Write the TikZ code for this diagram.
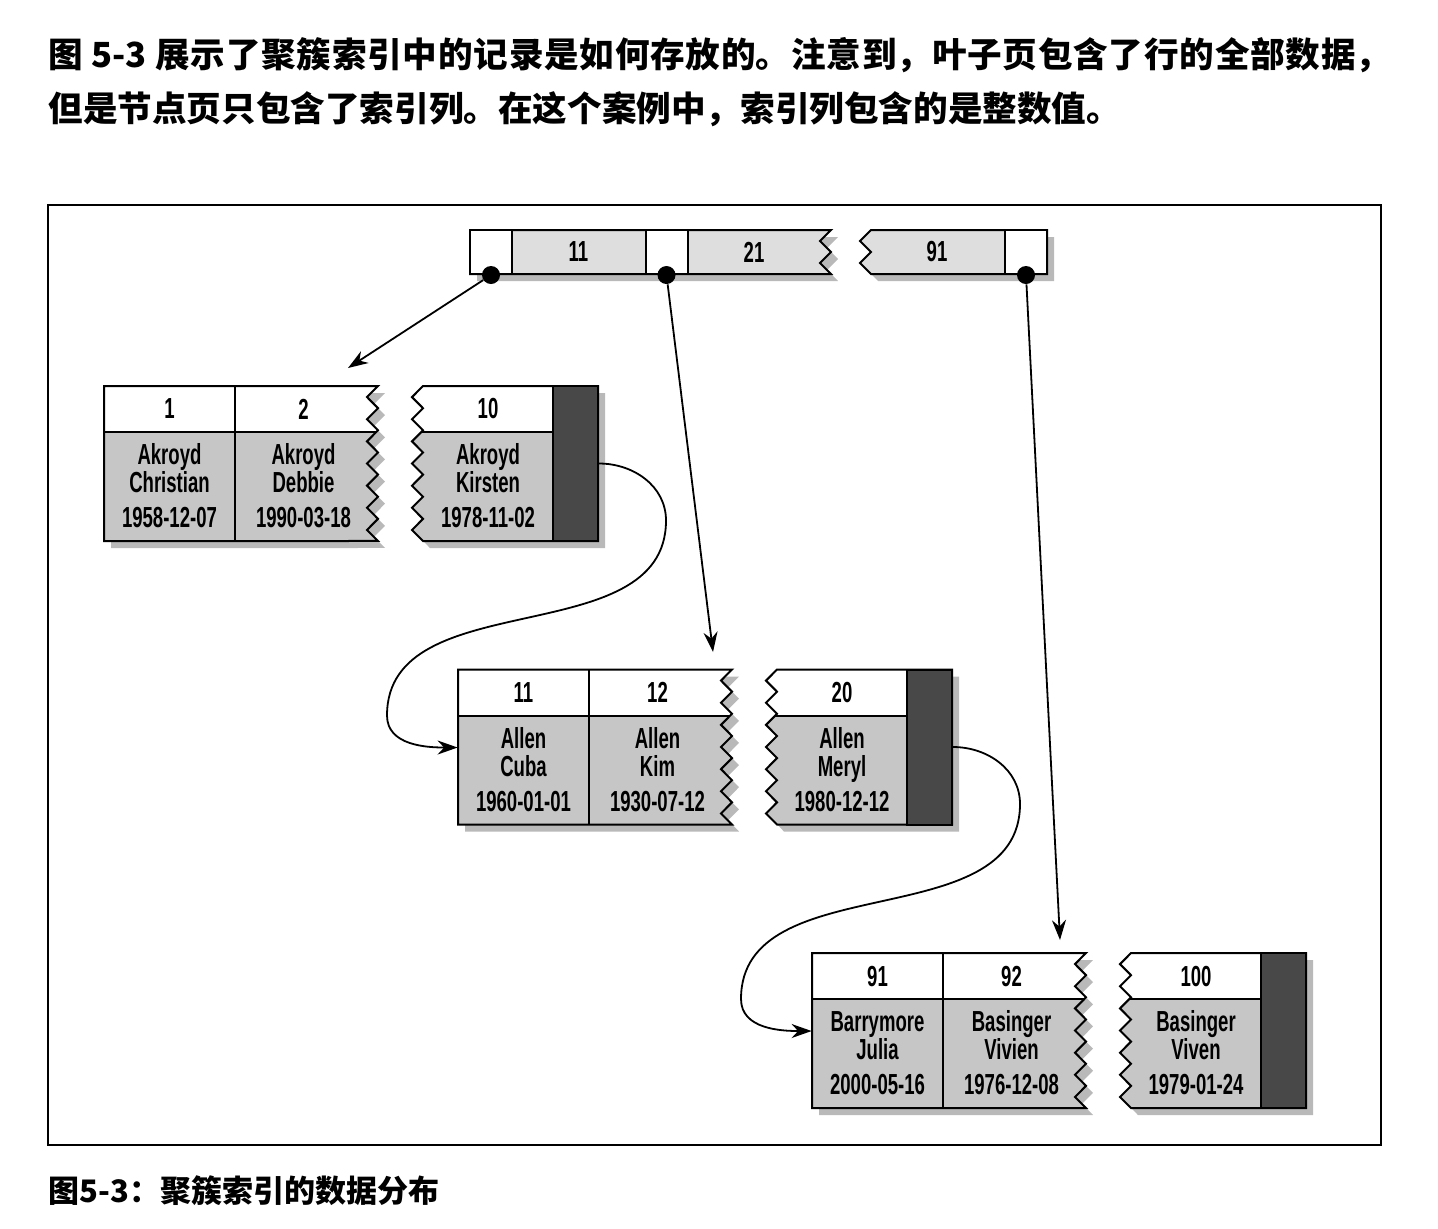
\documentclass[tikz,border=0pt]{standalone}
\usepackage{fontspec}
\setmainfont{Liberation Sans}
\newfontfamily\cjk{Noto Sans CJK SC}
\newfontfamily\cellfont[FakeStretch=0.64]{Liberation Sans}
\XeTeXlinebreaklocale "zh"
\XeTeXlinebreakskip=0pt plus 3pt
\usetikzlibrary{arrows.meta,calc}
\definecolor{KeyGrey}{RGB}{222,222,222}
\definecolor{RowGrey}{RGB}{198,198,198}
\definecolor{DarkGrey}{RGB}{72,72,72}
\definecolor{ShadowGrey}{RGB}{185,185,185}
\tikzset{
  pageline/.style={draw=black,line width=1pt},
  link/.style={-{Stealth[length=10pt,width=7pt]},line width=0.9pt},
  keytext/.style={inner sep=0pt,font=\cellfont\bfseries\fontsize{14.5}{14}\selectfont},
  rowtext/.style={inner sep=0pt,align=center,font=\cellfont\bfseries\fontsize{14.5}{14}\selectfont},
  dot/.style={circle,fill=black,inner sep=0pt,minimum size=9pt},
  ptrcell/.style={draw=black,line width=1pt,fill=white,minimum width=21pt,
    minimum height=22pt,inner sep=0pt},
  darkcol/.style={draw=black,line width=1pt,fill=DarkGrey,minimum width=22.5pt,
    minimum height=77.5pt,inner sep=0pt},
  % torn halves of a page, drawn in the coordinates of the first leaf
  leafleft/.style={insert path={(104,386) -- (378,386)
    \foreach \k in {1,...,7} {-- (367,{386+(\k-.5)*22.14}) -- (378,{386+\k*22.14})}
    -- (104,541) -- cycle}},
  leafright/.style={insert path={(598,386) -- (598,541) -- (423,541)
    \foreach \k in {1,...,7} {-- (412,{541-(\k-.5)*22.14}) -- (423,{541-\k*22.14})}
    -- cycle}},
  rootleft/.style={insert path={(470,230) -- (831,230)
    \foreach \k in {1,2} {-- (820,{230+(\k-.5)*22}) -- (831,{230+\k*22})}
    -- (470,274) -- cycle}},
  rootright/.style={insert path={(1047,230) -- (1047,274) -- (871,274)
    \foreach \k in {1,2} {-- (860,{274-(\k-.5)*22}) -- (871,{274-\k*22})}
    -- cycle}}
}
\begin{document}
\begin{tikzpicture}[x=0.5pt,y=-0.5pt]
  \useasboundingbox (0,0) rectangle (1438,1228);
  \node[anchor=north west,inner sep=0pt,text width=671pt,align=justify,
    font=\cjk\bfseries\fontsize{17.3}{27}\selectfont] (intro) at (48,37)
    {\noindent 图 5-3 展示了聚簇索引中的记录是如何存放的。注意到，叶子页包含了行的全部数据，\linebreak
    但是节点页只包含了索引列。在这个案例中，索引列包含的是整数值。};
  \draw[line width=0.8pt] (48,205) rectangle (1381,1145);

  % root page
  \fill[ShadowGrey,shift={(7,7)},rootleft];
  \fill[ShadowGrey,shift={(7,7)},rootright];
  \fill[KeyGrey,rootleft];
  \fill[KeyGrey,rootright];
  \draw[pageline,rootleft];
  \draw[pageline,rootright];
  \node[ptrcell] (ptr0) at (491,252) {};
  \node[ptrcell] (ptr1) at (666.5,252) {};
  \node[ptrcell] (ptr2) at (1026,252) {};
  \node[keytext] (key11) at (578.5,252) {11};
  \node[keytext] (key21) at (754,252) {21};
  \node[keytext] (key91) at (937,252) {91};
  \node[dot] (d0) at (ptr0.south) {};
  \node[dot] (d1) at (ptr1.south) {};
  \node[dot] (d2) at (ptr2.south) {};

  % leaf pages
  \foreach \i/\ka/\kb/\kc/\ra/\rb/\rc in {
    0/1/2/10/{Akroyd\\Christian\\[3.5pt]1958-12-07}/{Akroyd\\Debbie\\[3.5pt]1990-03-18}/{Akroyd\\Kirsten\\[3.5pt]1978-11-02},
    1/11/12/20/{Allen\\Cuba\\[3.5pt]1960-01-01}/{Allen\\Kim\\[3.5pt]1930-07-12}/{Allen\\Meryl\\[3.5pt]1980-12-12},
    2/91/92/100/{Barrymore\\Julia\\[3.5pt]2000-05-16}/{Basinger\\Vivien\\[3.5pt]1976-12-08}/{Basinger\\Viven\\[3.5pt]1979-01-24}} {
    \begin{scope}[shift={({354*\i},{283.5*\i})}]
      \fill[ShadowGrey,shift={(7,7)},leafleft];
      \fill[ShadowGrey,shift={(7,7)},leafright];
      \fill[RowGrey,leafleft];
      \fill[RowGrey,leafright];
      \begin{scope}
        \clip[leafleft];
        \fill[white] (104,386) rectangle (390,432);
        \draw[pageline] (104,432) -- (390,432);
      \end{scope}
      \begin{scope}
        \clip[leafright];
        \fill[white] (400,386) rectangle (553,432);
        \draw[pageline] (400,432) -- (553,432);
      \end{scope}
      \draw[pageline,leafleft];
      \draw[pageline,leafright];
      \node[darkcol] (dk\i) at (575.5,463.5) {};
      \node[keytext,minimum width=65.5pt,minimum height=23pt] (ka\i) at (169.5,409) {\ka};
      \node[keytext,minimum width=68.5pt,minimum height=23pt] (kb\i) at (303.5,409) {\kb};
      \node[keytext] (kc\i) at (488,409) {\kc};
      \node[rowtext,minimum width=65.5pt,minimum height=54.5pt] (ra\i) at (169.5,486) {\ra};
      \node[rowtext] (rb\i) at (303.5,486) {\rb};
      \node[rowtext] (rc\i) at (488,486) {\rc};
      \draw[pageline] (ka\i.north east) -- (ra\i.south east);
    \end{scope}
  }

  % pointers from the root
  \coordinate (in0) at (348,368);
  \coordinate (in1) at (713,652);
  \coordinate (in2) at (1060,940);
  \draw[link] (d0) -- (in0);
  \draw[link] (d1) -- (in1);
  \draw[link] (d2) -- (in2);

  % links between leaf pages
  \foreach \i/\j in {0/1,1/2}
    \draw[link] (dk\i.east) to[out=0,in=90] ++(67,57)
      to[out=-90,in=90] ++(-279,195)
      to[out=-90,in=180] ($(ra\j.west)+(0,-22)$);

  \node[anchor=base west,inner sep=0pt,font=\cjk\bfseries\fontsize{15.5}{18}\selectfont]
    (caption) at (48,1202) {图5-3：聚簇索引的数据分布};
\end{tikzpicture}
\end{document}
